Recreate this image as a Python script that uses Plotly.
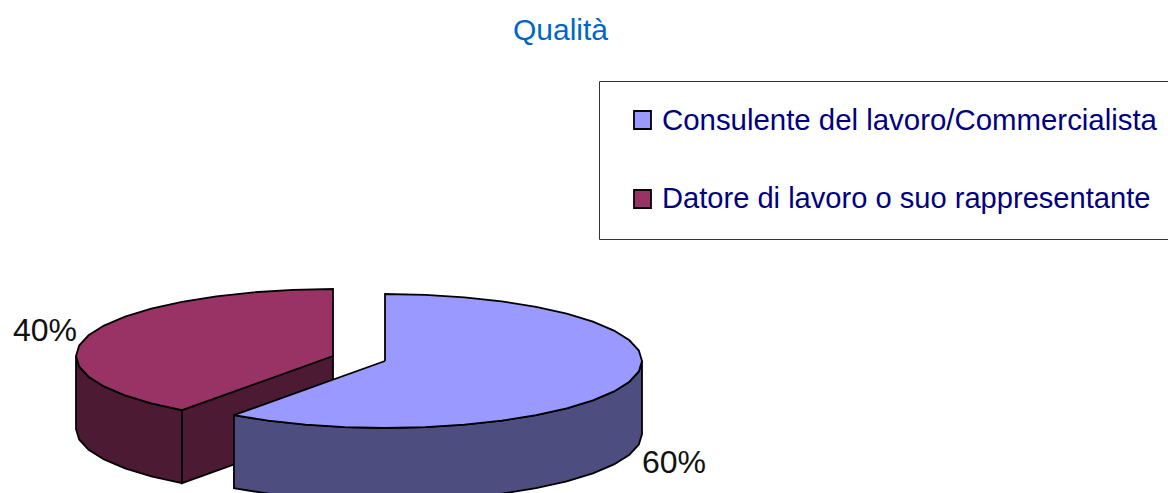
import numpy as np
import plotly.graph_objects as go

title = "Qualità"
categories = ["Consulente del lavoro/Commercialista", "Datore di lavoro o suo rappresentante"]
values = [60, 40]
labels = ["60%", "40%"]
top_colors = ["#9999FF", "#993366"]
wall_colors = ["#4D4D80", "#4D1A33"]

RX, RY, DEPTH = 257, 67, 73
centers = [(385, 361), (333, 356)]
STEP = 9


def arc(cx, cy, a0, a1, dy=0):
    n = max(2, int(round(abs(a1 - a0) / STEP)) + 1)
    t = np.radians(np.linspace(a0, a1, n))
    return cx + RX * np.sin(t), cy - RY * np.cos(t) + dy


def poly(xs, ys, color):
    return go.Scatter(x=list(xs) + [xs[0]], y=list(ys) + [ys[0]], mode="lines", fill="toself",
                      fillcolor=color, line=dict(color="black", width=1.8),
                      hoverinfo="skip", showlegend=False)


total = sum(values)
starts = np.cumsum([0] + values[:-1]) * 360 / total
ends = np.cumsum(values) * 360 / total

fig = go.Figure()

# second slice first, so the first one sits in front of it
i = 1
cx, cy = centers[i]
ax, ay = arc(cx, cy, starts[i], 270)
bx, by = arc(cx, cy, 270, starts[i], DEPTH)
fig.add_trace(poly(np.r_[ax, bx], np.r_[ay, by], wall_colors[i]))
ex, ey = arc(cx, cy, starts[i], starts[i])
fig.add_trace(poly([ex[0], cx, cx, ex[0]], [ey[0], cy, cy + DEPTH, ey[0] + DEPTH], wall_colors[i]))
ax, ay = arc(cx, cy, starts[i], ends[i])
fig.add_trace(poly(np.r_[cx, ax], np.r_[cy, ay], top_colors[i]))

i = 0
cx, cy = centers[i]
ax, ay = arc(cx, cy, 90, ends[i])
bx, by = arc(cx, cy, ends[i], 90, DEPTH)
fig.add_trace(poly(np.r_[ax, bx], np.r_[ay, by], wall_colors[i]))
ax, ay = arc(cx, cy, starts[i], ends[i])
fig.add_trace(poly(np.r_[cx, ax], np.r_[cy, ay], top_colors[i]))

FONT = "Liberation Sans, Arial, sans-serif"
annotations = [
    dict(x=560, y=29, text=title, font=dict(size=30, color="#0066CC", family=FONT), xanchor="center"),
    dict(x=706, y=462, text=labels[0], font=dict(size=32, color="#111111", family=FONT), xanchor="right"),
    dict(x=77, y=330, text=labels[1], font=dict(size=32, color="#111111", family=FONT), xanchor="right"),
]
shapes = [dict(type="rect", x0=599.5, x1=1172, y0=81.5, y1=239.5, line=dict(color="#333333", width=1))]
for name, color, y, size in zip(categories, top_colors, [120, 199], [29.4, 29.1]):
    shapes.append(dict(type="rect", x0=634, x1=651, y0=y - 9, y1=y + 9, fillcolor=color,
                       line=dict(color="black", width=1.8)))
    annotations.append(dict(x=662, y=y - 1, text=name, xanchor="left",
                            font=dict(size=size, color="#000080", family=FONT)))
for a in annotations:
    a.update(xref="x", yref="y", showarrow=False, yanchor="middle", borderpad=0, borderwidth=0)

fig.update_layout(
    width=1168, height=493, margin=dict(l=0, r=0, t=0, b=0),
    paper_bgcolor="white", plot_bgcolor="white", showlegend=False,
    xaxis=dict(range=[0, 1168], visible=False, fixedrange=True),
    yaxis=dict(range=[493, 0], visible=False, fixedrange=True),
    annotations=annotations, shapes=shapes,
)
fig.write_html("out.html", config=dict(displayModeBar=False),
               post_script="document.body.style.margin='0';document.documentElement.style.overflow='hidden';")
